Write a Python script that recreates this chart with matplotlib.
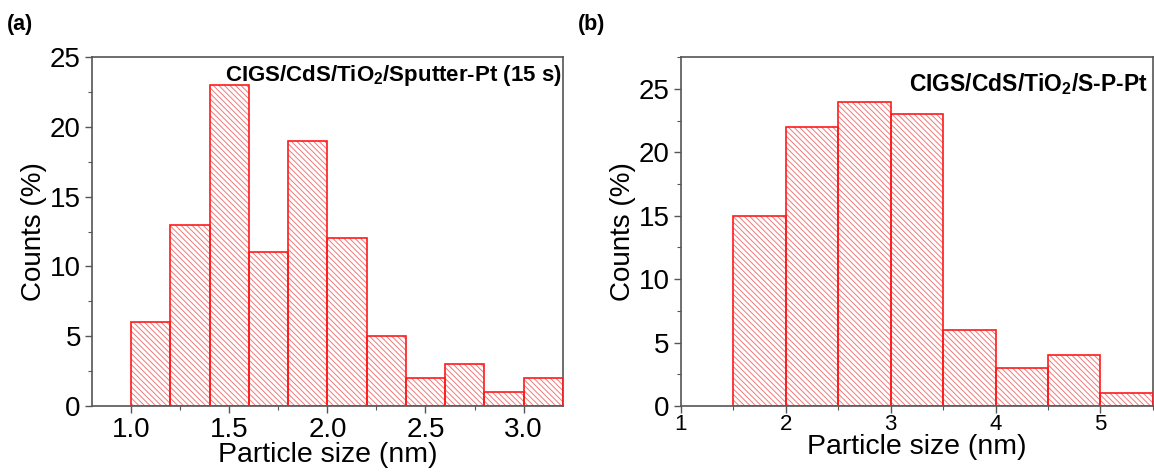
import numpy as np
import matplotlib
matplotlib.use("Agg")
import matplotlib.pyplot as plt
from matplotlib.ticker import MultipleLocator, FormatStrFormatter

plt.rcParams["font.family"] = ["Liberation Sans", "DejaVu Sans"]
plt.rcParams["hatch.linewidth"] = 0.7
plt.rcParams["mathtext.fontset"] = "custom"
plt.rcParams["mathtext.bf"] = "Liberation Sans:bold"
plt.rcParams["mathtext.rm"] = "Liberation Sans"

# Panel (a): sputtered Pt, 0.2 nm bins
edges_a = [1.0, 1.2, 1.4, 1.6, 1.8, 2.0, 2.2, 2.4, 2.6, 2.8, 3.0, 3.2]
counts_a = [6, 13, 23, 11, 19, 12, 5, 2, 3, 1, 2]
label_a = r"CIGS/CdS/TiO$_\mathbf{2}$/Sputter-Pt (15 s)"

# Panel (b): S-P-Pt, 0.5 nm bins
edges_b = [1.5, 2.0, 2.5, 3.0, 3.5, 4.0, 4.5, 5.0, 5.5]
counts_b = [15, 22, 24, 23, 6, 3, 4, 1]
label_b = r"CIGS/CdS/TiO$_\mathbf{2}$/S-P-Pt"

RED = "#ff1a1a"
HATCH_RED = "#f07a7a"
FRAME = "#555555"


def draw_hist(ax, edges, counts):
    edges = np.asarray(edges)
    widths = np.diff(edges)
    # hatch layer, then crisp outlines on top
    ax.bar(edges[:-1], counts, width=widths, align="edge", color="none",
           edgecolor=HATCH_RED, hatch="\\" * 6, linewidth=0, zorder=2)
    ax.bar(edges[:-1], counts, width=widths, align="edge", color="none",
           edgecolor=RED, linewidth=1.2, zorder=3)


def style_axes(ax):
    for s in ax.spines.values():
        s.set_color(FRAME)
        s.set_linewidth(1.2)
    ax.tick_params(which="both", direction="out", color=FRAME)
    ax.tick_params(which="major", length=5, width=1.0)
    ax.tick_params(which="minor", length=3, width=0.8)
    ax.tick_params(axis="both", labelsize=20, pad=3)
    ax.set_xlabel("Particle size (nm)", fontsize=20.5, labelpad=-1)
    ax.set_ylabel("Counts (%)", fontsize=20, labelpad=2)


fig = plt.figure(figsize=(11.54, 4.72), dpi=100)
ax_a = fig.add_axes([0.0797, 0.140, 0.408, 0.739])
ax_b = fig.add_axes([0.590, 0.140, 0.409, 0.739])

draw_hist(ax_a, edges_a, counts_a)
style_axes(ax_a)
ax_a.set_xlim(0.8, 3.2)
ax_a.set_ylim(0, 25)
ax_a.xaxis.set_major_locator(MultipleLocator(0.5))
ax_a.xaxis.set_minor_locator(MultipleLocator(0.25))
ax_a.yaxis.set_major_locator(MultipleLocator(5))
ax_a.yaxis.set_minor_locator(MultipleLocator(2.5))
ax_a.xaxis.set_major_formatter(FormatStrFormatter("%.1f"))
ax_a.text(0.997, 0.982, label_a, transform=ax_a.transAxes, ha="right",
          va="top", fontsize=16, fontweight="bold")

draw_hist(ax_b, edges_b, counts_b)
style_axes(ax_b)
ax_b.set_xlim(1, 5.5)
ax_b.set_ylim(0, 27.5)
ax_b.xaxis.set_major_locator(MultipleLocator(1))
ax_b.xaxis.set_minor_locator(MultipleLocator(0.5))
ax_b.yaxis.set_major_locator(MultipleLocator(5))
ax_b.yaxis.set_minor_locator(MultipleLocator(2.5))
ax_b.tick_params(axis="x", labelsize=16, pad=1)
ax_b.text(0.99, 0.96, label_b, transform=ax_b.transAxes, ha="right",
          va="top", fontsize=16.5, fontweight="bold")

fig.text(0.006, 0.948, "(a)", fontsize=15.5, fontweight="bold", va="center")
fig.text(0.501, 0.948, "(b)", fontsize=15.5, fontweight="bold", va="center")

fig.savefig("out.png", dpi=100)
